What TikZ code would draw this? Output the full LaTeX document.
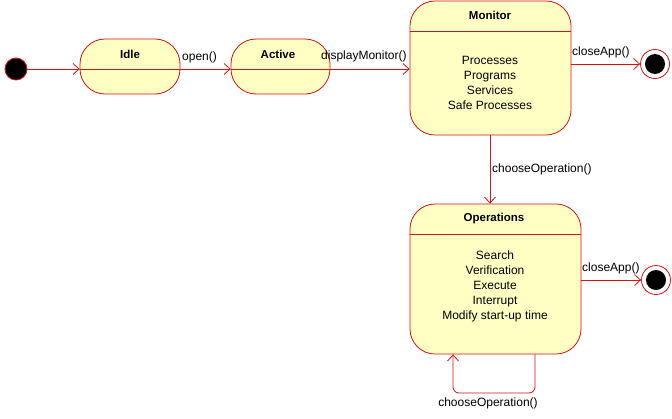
\documentclass[tikz,border=0pt]{standalone}
\usepackage{fontspec}
\setmainfont{Liberation Sans}
\usetikzlibrary{arrows.meta}
\definecolor{umlred}{RGB}{210,20,20}
\definecolor{umlfill}{RGB}{255,255,196}
\begin{document}
\begin{tikzpicture}[x=1pt,y=-1pt,
  state/.style={draw=umlred, fill=umlfill, line width=0.8pt, rectangle, inner sep=0pt},
  ttl/.style={font=\fontsize{11.5}{14}\selectfont\bfseries, inner sep=0pt},
  body/.style={font=\fontsize{12}{15}\selectfont, align=center, inner sep=0pt},
  lbl/.style={font=\fontsize{12}{14}\selectfont, inner sep=0pt},
  arr/.style={draw=umlred, line width=0.8pt, -{Straight Barb[length=6pt,width=11pt]}},
  line/.style={draw=umlred, line width=0.8pt},
  initst/.style={circle, fill=black, draw=umlred, line width=0.8pt, minimum size=22pt, inner sep=0pt},
  finst/.style={circle, fill=white, draw=umlred, line width=0.8pt, minimum size=29pt, inner sep=0pt},
  fincore/.style={circle, fill=black, minimum size=20pt, inner sep=0pt}]
\useasboundingbox (0,0) rectangle (672,418);
% states
\node[initst] (init) at (16,69) {};
\node[state, rounded corners=25pt, minimum width=100pt, minimum height=55pt] (idle) at (130,66.5) {};
\node[state, rounded corners=25pt, minimum width=99pt, minimum height=55pt] (active) at (280.5,66.5) {};
\node[state, rounded corners=25pt, minimum width=161pt, minimum height=134pt] (mon) at (490.5,68) {};
\node[state, rounded corners=25pt, minimum width=171pt, minimum height=150pt] (ops) at (495.5,279) {};
\node[finst] (f1) at (655,64) {};
\node[fincore] (f1c) at (f1) {};
\node[finst] (f2) at (656,280) {};
\node[fincore] (f2c) at (f2) {};
% dividers
\draw[line] (idle.west |- 0,69) -- (idle.east |- 0,69);
\draw[line] (active.west |- 0,69) -- (active.east |- 0,69);
\draw[line] (mon.west |- 0,31) -- (mon.east |- 0,31);
\draw[line] (ops.west |- 0,234) -- (ops.east |- 0,234);
% titles
\node[ttl] (tidle) at (130,54) {Idle};
\node[ttl] (tactive) at (278,54) {Active};
\node[ttl] (tmon) at (490,15) {Monitor};
\node[ttl] (tops) at (494,219) {Operations};
% bodies
\node[body] (bmon) at (490,82.5) {Processes\\Programs\\Services\\Safe Processes};
\node[body] (bops) at (495,286) {Search\\Verification\\Execute\\Interrupt\\Modify start-up time};
% connectors
\draw[arr] (init.east) -- (init.east -| idle.west);
\draw[arr] (idle.east |- 0,69) -- (active.west |- 0,69);
\draw[arr] (active.east |- 0,69) -- (mon.west |- 0,69);
\draw[arr] (mon.east |- f1) -- (f1);
\draw[arr] (mon.south -| 490,0) -- (ops.north -| 490,0);
\draw[arr] (ops.east |- f2) -- (f2);
\draw[arr, rounded corners=6pt] (ops.south -| 535,0) -- (535,393) -- (453,393) -- (ops.south -| 453,0);
% labels
\node[lbl, anchor=west] (lopen) at (182,57) {open()};
\node[lbl, anchor=west] (ldisp) at (321,56) {displayMonitor()};
\node[lbl, anchor=west] (lclose1) at (572,52) {closeApp()};
\node[lbl, anchor=west] (lchoose1) at (492,169) {chooseOperation()};
\node[lbl, anchor=west] (lclose2) at (582,268) {closeApp()};
\node[lbl] (lchoose2) at (488,403) {chooseOperation()};
\end{tikzpicture}
\end{document}
